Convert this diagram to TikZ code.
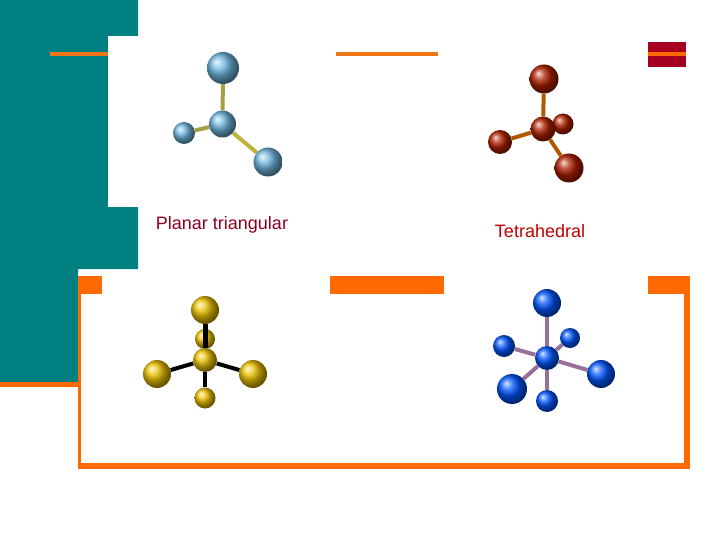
\documentclass[tikz,border=0pt]{standalone}
\usepackage{fontspec}
\setmainfont{Liberation Sans}
\definecolor{slideteal}{HTML}{008080}
\definecolor{slideorange}{HTML}{FF6A00}
\definecolor{lineorange}{HTML}{EE7518}
\definecolor{slidered}{HTML}{A50021}
\definecolor{skyball}{HTML}{70B8E0}
\definecolor{rustball}{HTML}{B02000}
\definecolor{goldball}{HTML}{ECC000}
\definecolor{azureball}{HTML}{0055FF}
\tikzset{
atom/.style = {circle, inner sep=0pt, minimum size=#1},
sky/.style = {atom=#1, ball color=skyball},
rust/.style = {atom=#1, ball color=rustball},
gold/.style = {atom=#1, ball color=goldball},
azure/.style = {atom=#1, ball color=azureball},
bond/.style = {line width=4pt},
caption/.style = {font=\fontsize{18}{20}\selectfont}
}
\begin{document}
\begin{tikzpicture}[x=1pt,y=-1pt]
    \useasboundingbox (0,0) rectangle (720,540);
    % We start by placing the slide background
    \fill [slideteal] (0,0) -| (138,269) -| (78,382) -| (0,0) -- cycle;
    \fill [white] (108,36) rectangle (138.5,207);
    \fill [lineorange] (50,52) rectangle (108,56);
    \fill [lineorange] (336,52) rectangle (438,56);
    \fill [slidered] (648,42) rectangle (686,67);
    \fill [slideorange] (648,52) rectangle (686,56);
    \fill [slideorange] (0,382) rectangle (78,387);
    \fill [slideorange] (78,276) rectangle (102,294);
    \fill [slideorange] (330,276) rectangle (444,294);
    \fill [slideorange] (648,276) rectangle (690,294);
    \fill [slideorange] (78,294) rectangle (81,469);
    \fill [slideorange] (684,294) rectangle (690,469);
    \fill [slideorange] (78,463) rectangle (690,469);

    % Planar triangular
    \node [sky=32] (pt) at (223,68) {};
    \node [sky=27] (pc) at (222.5,124) {};
    \node [sky=22] (pl) at (184,133) {};
    \node [sky=29] (pr) at (268,162) {};
    \draw [bond, draw=yellow!60!black] (pc) -- (pt);
    \draw [bond, draw=yellow!60!black] (pc) -- (pl);
    \draw [bond, draw=yellow!70!black] (pc) -- (pr);
    \node [caption, text=slidered!85!black] (ptname) at (222,224.5) {Planar triangular};

    % Tetrahedral
    \node [rust=29] (tt) at (544,79) {};
    \node [rust=21] (tb) at (563,124) {};
    \node [rust=25] (tc) at (543,129) {};
    \node [rust=24] (tl) at (500,142) {};
    \node [rust=29] (tr) at (569,168) {};
    \draw [bond, draw=orange!70!black] (tc) -- (tt);
    \draw [bond, draw=orange!70!black] (tc) -- (tl);
    \draw [bond, draw=orange!70!black] (tc) -- (tr);
    \node [caption, text=red!75!black] (ttname) at (540,231) {Tetrahedral};

    % Yellow molecule
    \node [gold=28] (yt) at (205,310) {};
    \node [gold=20] (yb) at (205,339) {};
    \node [gold=24] (yc) at (205,360) {};
    \node [gold=28] (yl) at (157,374) {};
    \node [gold=28] (yr) at (253,374) {};
    \node [gold=21] (yd) at (205,398) {};
    \draw [bond, line width=5pt, draw=black] (yc) -- (yt);
    \draw [bond, draw=black] (yc) -- (yl);
    \draw [bond, draw=black] (yc) -- (yr);
    \draw [bond, draw=black] (yc) -- (yd);

    % Blue molecule
    \node [azure=28] (bt) at (547,303) {};
    \node [azure=24] (bc) at (547,358) {};
    \node [azure=20] (bb) at (570,338) {};
    \node [azure=22] (bl) at (504,346) {};
    \node [azure=28] (br) at (601,374) {};
    \node [azure=30] (bf) at (512,389) {};
    \node [azure=22] (bd) at (547,401) {};
    \draw [bond, draw=violet!40!gray!80] (bc) -- (bt);
    \draw [bond, draw=violet!40!gray!80] (bc) -- (bb);
    \draw [bond, draw=violet!40!gray!80] (bc) -- (bl);
    \draw [bond, draw=violet!40!gray!80] (bc) -- (br);
    \draw [bond, draw=violet!40!gray!80] (bc) -- (bf);
    \draw [bond, draw=violet!40!gray!80] (bc) -- (bd);
\end{tikzpicture}
\end{document}
